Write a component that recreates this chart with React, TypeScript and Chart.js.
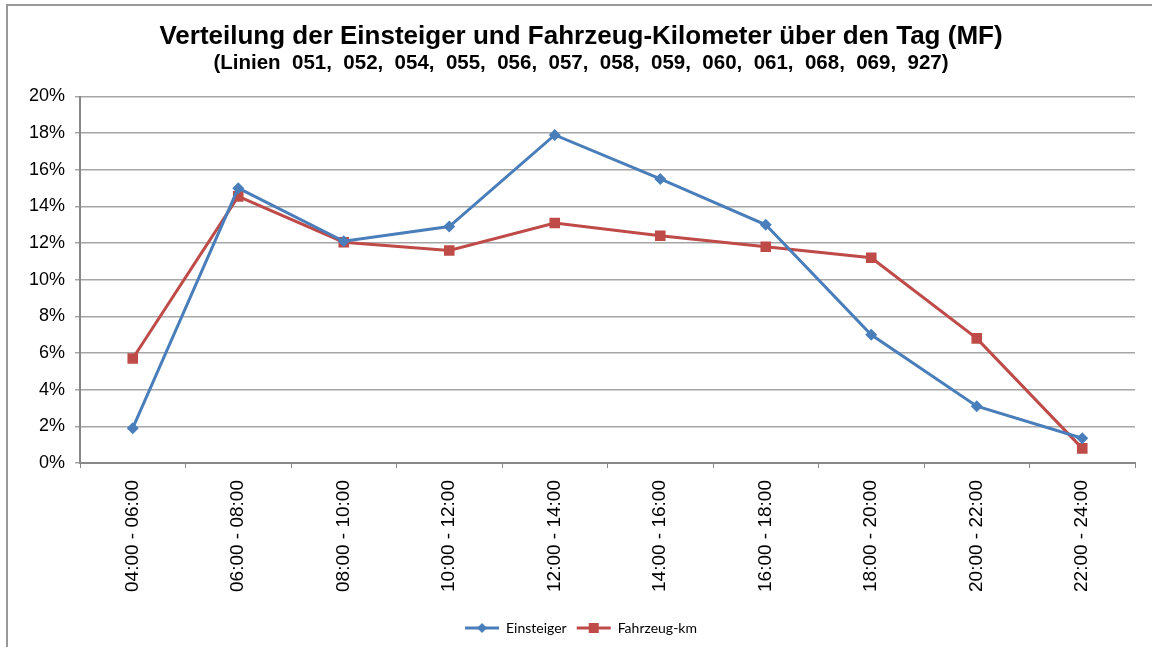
import React, { useEffect, useRef } from "react";
import { Chart, registerables } from "chart.js";

Chart.register(...registerables);

const categories = [
  "04:00 - 06:00",
  "06:00 - 08:00",
  "08:00 - 10:00",
  "10:00 - 12:00",
  "12:00 - 14:00",
  "14:00 - 16:00",
  "16:00 - 18:00",
  "18:00 - 20:00",
  "20:00 - 22:00",
  "22:00 - 24:00",
];
const einsteiger = [1.9, 15.0, 12.1, 12.9, 17.9, 15.5, 13.0, 7.0, 3.1, 1.35];
const fahrzeugKm = [5.7, 14.55, 12.05, 11.6, 13.1, 12.4, 11.8, 11.2, 6.8, 0.8];
const titleText = "Verteilung der Einsteiger und Fahrzeug-Kilometer über den Tag (MF)";
const subtitleText = "(Linien  051,  052,  054,  055,  056,  057,  058,  059,  060,  061,  068,  069,  927)";

const BLUE = "#4A7EBB";
const RED = "#BE4B48";

function legendIcon(color: string, shape: "diamond" | "square") {
  const c = document.createElement("canvas");
  c.width = 36;
  c.height = 12;
  const ctx = c.getContext("2d")!;
  ctx.strokeStyle = color;
  ctx.lineWidth = 3;
  ctx.beginPath();
  ctx.moveTo(1, 6);
  ctx.lineTo(35, 6);
  ctx.stroke();
  ctx.fillStyle = color;
  if (shape === "diamond") {
    ctx.beginPath();
    ctx.moveTo(18, 1);
    ctx.lineTo(23, 6);
    ctx.lineTo(18, 11);
    ctx.lineTo(13, 6);
    ctx.closePath();
    ctx.fill();
  } else {
    ctx.fillRect(13, 1, 10, 10);
  }
  return c;
}

export default function App() {
  const ref = useRef<HTMLCanvasElement | null>(null);

  useEffect(() => {
    document.body.style.margin = "0";
    const icons = [legendIcon(BLUE, "diamond"), legendIcon(RED, "square")];
    const chart = new Chart(ref.current!, {
      type: "line",
      data: {
        labels: categories,
        datasets: [
          {
            label: "Einsteiger",
            data: einsteiger,
            borderColor: BLUE,
            backgroundColor: BLUE,
            borderWidth: 3,
            pointStyle: "rectRot",
            pointRadius: 6,
            pointBorderWidth: 0,
            tension: 0,
          },
          {
            label: "Fahrzeug-km",
            data: fahrzeugKm,
            borderColor: RED,
            backgroundColor: RED,
            borderWidth: 3,
            pointStyle: "rect",
            pointRadius: 7.5,
            pointBorderWidth: 0,
            tension: 0,
          },
        ],
      },
      options: {
        animation: false,
        responsive: false,
        layout: { padding: { left: 27, right: 17, top: 0, bottom: 2 } },
        plugins: {
          title: {
            display: true,
            text: titleText,
            color: "#000",
            font: { family: "Liberation Sans", size: 26, weight: "bold", lineHeight: 1 },
            padding: { top: 24, bottom: 0 },
          },
          subtitle: {
            display: true,
            text: subtitleText,
            color: "#000",
            font: { family: "Liberation Sans", size: 20.5, weight: "bold", lineHeight: 1 },
            padding: { top: 3, bottom: 23 },
          },
          legend: {
            position: "bottom",
            labels: {
              usePointStyle: true,
              pointStyleWidth: 34,
              color: "#000",
              font: { family: "Lato", size: 14 },
              padding: 10,
              generateLabels: (ch: any) => {
                const items = Chart.defaults.plugins.legend.labels.generateLabels(ch);
                items.forEach((it: any, i: number) => {
                  it.pointStyle = icons[i];
                });
                return items;
              },
            },
          },
          tooltip: { enabled: false },
        },
        scales: {
          x: {
            offset: true,
            afterFit: (s: any) => {
              s.height = 148;
            },
            grid: {
              display: true,
              offset: true,
              drawOnChartArea: false,
              drawTicks: true,
              tickLength: 5,
              color: "#888",
            },
            border: { color: "#888", width: 2 },
            ticks: {
              minRotation: 90,
              maxRotation: 90,
              autoSkip: false,
              padding: 12,
              color: "#000",
              font: { family: "Liberation Sans", size: 19 },
            },
          },
          y: {
            min: 0,
            max: 20,
            afterFit: (s: any) => {
              s.width = 53;
            },
            grid: {
              color: "#a6a6a6",
              lineWidth: 1.5,
              tickLength: 5,
            },
            border: { color: "#888", width: 2 },
            ticks: {
              stepSize: 2,
              padding: 10,
              color: "#000",
              font: { family: "Liberation Sans", size: 18 },
              callback: (v: any) => v + "%",
            },
          },
        },
      },
    });
    return () => chart.destroy();
  }, []);

  return (
    <div style={{ position: "relative", width: 1152, height: 647, overflow: "hidden" }}>
      <div
        style={{
          position: "absolute",
          left: 6,
          top: 4,
          width: 1160,
          height: 700,
          borderLeft: "2px solid #999",
          borderTop: "2px solid #999",
        }}
      />
      <canvas ref={ref} width={1152} height={647} style={{ position: "absolute", left: 0, top: 0 }} />
    </div>
  );
}
